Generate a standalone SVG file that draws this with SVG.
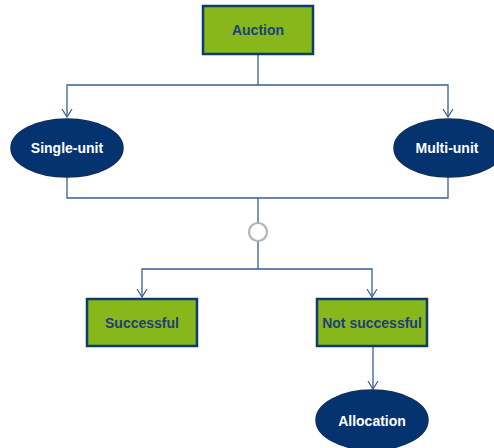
<svg xmlns="http://www.w3.org/2000/svg" width="494" height="448" viewBox="0 0 494 448">
<defs>
<marker id="arr" markerWidth="10" markerHeight="12" refX="8" refY="6" orient="auto" markerUnits="userSpaceOnUse" viewBox="0 0 10 12">
<path d="M0,1 L8,6 L0,11" fill="none" stroke="#3a5f96" stroke-width="1.2"/>
</marker>
<style>
.box{fill:#87b71a;stroke:#0e3a6e;stroke-width:2.5}
.ell{fill:#05336f;stroke:#0e2f5c;stroke-width:1.5}
.bt{font-family:"Liberation Sans",Arial,sans-serif;font-weight:bold;font-size:14px;fill:#1c3f7c;text-anchor:middle;dominant-baseline:central}
.et{font-family:"Liberation Sans",Arial,sans-serif;font-weight:bold;font-size:14px;fill:#ffffff;text-anchor:middle;dominant-baseline:central}
.ln{fill:none;stroke:#3a5f96;stroke-width:1.3}
</style>
</defs>
<rect width="494" height="448" fill="#ffffff"/>
<g id="connectors">
<path class="ln" d="M258,54 V85"/>
<path class="ln" d="M258,85 H67 V117" marker-end="url(#arr)"/>
<path class="ln" d="M258,85 H448 V117" marker-end="url(#arr)"/>
<path class="ln" d="M67,177 V198 H448 V177"/>
<path class="ln" d="M258,198 V223"/>
<path class="ln" d="M258,241 V269"/>
<path class="ln" d="M258,269 H142 V297" marker-end="url(#arr)"/>
<path class="ln" d="M258,269 H372 V297" marker-end="url(#arr)"/>
<path class="ln" d="M373,346 V389" marker-end="url(#arr)"/>
</g>
<g id="auction"><rect class="box" x="203" y="6" width="110" height="48"/><text class="bt" x="258" y="30">Auction</text></g>
<g id="single-unit"><ellipse class="ell" cx="67" cy="148" rx="56" ry="29"/><text class="et" x="67" y="148">Single-unit</text></g>
<g id="multi-unit"><ellipse class="ell" cx="449" cy="148" rx="55" ry="29"/><text class="et" x="447" y="148">Multi-unit</text></g>
<g id="junction"><circle cx="258" cy="232" r="9" fill="#ffffff" stroke="#b4b4b4" stroke-width="2.2"/></g>
<g id="successful"><rect class="box" x="87" y="299" width="110" height="47"/><text class="bt" x="142" y="323">Successful</text></g>
<g id="not-successful"><rect class="box" x="317" y="299" width="110" height="47"/><text class="bt" x="372" y="323">Not successful</text></g>
<g id="allocation"><ellipse class="ell" cx="372" cy="420" rx="56" ry="30"/><text class="et" x="372" y="421">Allocation</text></g>
</svg>
